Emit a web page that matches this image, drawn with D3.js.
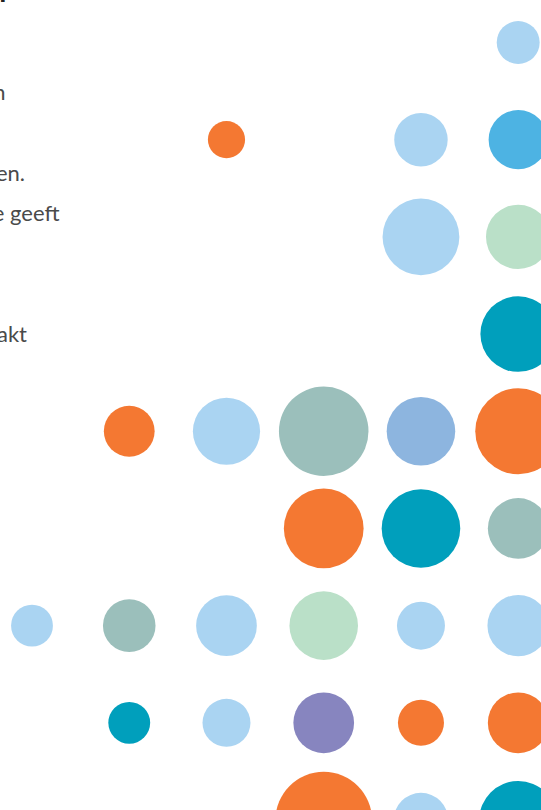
<!DOCTYPE html>
<html>
<head>
<meta charset="utf-8">
<script src="https://cdn.jsdelivr.net/npm/d3@7"></script>
<style>
	html, body { margin: 0; padding: 0; background: #fff; overflow: hidden; }
	text { font-family: Lato, "Open Sans", sans-serif; }
</style>
</head>
<body>
<div id="chart"></div>
<script>
var columns = ["k0", "k1", "k2", "k3", "k4", "k5"];
var rows = ["r0", "r1", "r2", "r3", "r4", "r5", "r6", "r7", "r8"];

// bubble values per row (null = no bubble)
var values = [
	[null, null, null, null, null, 20],
	[null, null, 15, null, 31, 38],
	[null, null, null, null, 64, 45],
	[null, null, null, null, null, 62],
	[null, 28, 49, 87, 51, 80],
	[null, null, null, 69, 67, 40],
	[19, 30, 40, 51, 25, 41],
	[null, 19, 25, 40, 23, 40],
	[null, null, null, 101, 32, 66]
];

// colour group per bubble
var groups = [
	[null, null, null, null, null, "lichtblauw"],
	[null, null, "oranje", null, "lichtblauw", "blauw"],
	[null, null, null, null, "lichtblauw", "lichtgroen"],
	[null, null, null, null, null, "petrol"],
	[null, "oranje", "lichtblauw", "grijsgroen", "middenblauw", "oranje"],
	[null, null, null, "oranje", "petrol", "grijsgroen"],
	["lichtblauw", "grijsgroen", "lichtblauw", "lichtgroen", "lichtblauw", "lichtblauw"],
	[null, "petrol", "lichtblauw", "paars", "oranje", "oranje"],
	[null, null, null, "oranje", "lichtblauw", "petrol"]
];

var groupNames = ["lichtblauw", "oranje", "blauw", "lichtgroen", "petrol", "grijsgroen", "middenblauw", "paars"];
var groupColors = ["#aad4f2", "#f47832", "#4db3e3", "#bae0c8", "#009fbc", "#9bbfbb", "#8db5df", "#8785bf"];

var introLines = [
	"de verschillen tussen",
	"",
	"sectoren en regio's in het ondernemen.",
	"Kleur en grootte geeft",
	"",
	"",
	"zichtbaar wat de beurs maakt"
];

var conf = { width: 541, height: 810 };

var $svg = d3.select("#chart").append("svg")
	.attr("width", conf.width)
	.attr("height", conf.height);

// heading, mostly off canvas
$svg.append("text")
	.attr("x", 6)
	.attr("y", 1.5)
	.attr("text-anchor", "end")
	.attr("font-size", 26)
	.attr("font-weight", 900)
	.attr("fill", "#222")
	.text("Ondernemersprofiel");

var $intro = $svg.append("g").attr("class", "intro");
$intro.selectAll("text")
	.data(introLines)
	.enter()
	.append("text")
	.attr("x", function(d, i) { return [5.5, 0, 25, 59.5, 0, 0, 27][i]; })
	.attr("y", function(d, i) { return 100 + i * 40.3; })
	.attr("text-anchor", "end")
	.attr("font-size", 22)
	.attr("fill", "#4a4a4a")
	.text(function(d) { return d; });

var x = d3.scaleLinear()
	.domain([0, columns.length - 1])
	.range([32, 518.2]);

var y = d3.scaleLinear()
	.domain([0, rows.length - 1])
	.range([42.5, 820]);

var r = d3.scaleSqrt()
	.domain([0, 100])
	.range([0, 48]);

var color = d3.scaleOrdinal()
	.domain(groupNames)
	.range(groupColors);

var cells = [];
values.forEach(function(row, ri) {
	row.forEach(function(v, ci) {
		if (v !== null) {
			cells.push({ row: ri, col: ci, value: v, group: groups[ri][ci] });
		}
	});
});

$svg.append("g")
	.attr("class", "bubbles")
	.selectAll("circle")
	.data(cells)
	.enter()
	.append("circle")
	.attr("cx", function(d) { return x(d.col); })
	.attr("cy", function(d) { return y(d.row); })
	.attr("r", function(d) { return r(d.value); })
	.attr("fill", function(d) { return color(d.group); });
</script>
</body>
</html>
